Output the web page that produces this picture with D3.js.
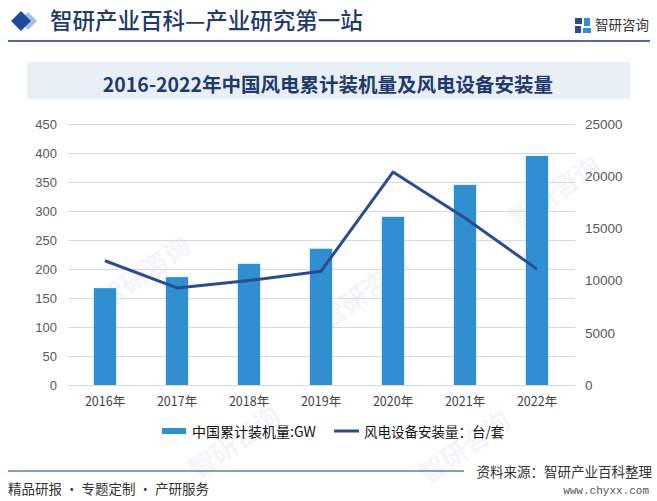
<!DOCTYPE html>
<html><head><meta charset="utf-8">
<script src="https://cdn.jsdelivr.net/npm/d3@7"></script>
<style>
html,body{margin:0;padding:0;background:#fff;}
svg{display:block;}
</style></head>
<body>
<svg id="chart" width="657" height="501"></svg>
<script>
const categories = ["2016年","2017年","2018年","2019年","2020年","2021年","2022年"];
const capacityGW = [167, 186, 209, 235, 290, 345, 395];
const installSets = [11900, 9300, 10000, 10900, 20400, 16000, 11100];
const leftTicks = [0,50,100,150,200,250,300,350,400,450];
const rightTicks = [0,5000,10000,15000,20000,25000];
const seriesNames = ["中国累计装机量:GW", "风电设备安装量：台/套"];

const svg = d3.select("#chart");
const CJK = "'Noto Sans CJK SC','Noto Sans',sans-serif";
const navy = "#1f3a6b";
const barColor = "#2f8fd0";
const lineColor = "#2c4c8e";

// faint watermarks
const wm = [[150,280],[370,300],[560,200],[240,450],[470,455]];
wm.forEach(([x,y])=>{
  svg.append("text").attr("x",x).attr("y",y)
    .attr("transform",`rotate(-35,${x},${y})`)
    .attr("text-anchor","middle")
    .attr("font-family",CJK).attr("font-size",26).attr("font-weight",700)
    .attr("fill","#d3deeb").attr("opacity",0.25).text("智研咨询");
});

// header
svg.append("path").attr("d","M28,12 L37,21 L28,30 L19,21 Z").attr("fill","#a9bfe0");
svg.append("path").attr("d","M21,11 L31,21 L21,31 L11,21 Z").attr("fill","#1f4a98");
svg.append("text").attr("x",50).attr("y",29).attr("font-family",CJK).attr("font-size",22.5)
  .attr("font-weight",500).attr("fill",navy).text("智研产业百科—产业研究第一站");
svg.append("line").attr("x1",8).attr("x2",650).attr("y1",41).attr("y2",41)
  .attr("stroke",navy).attr("stroke-width",1.3);
// logo
const lg = svg.append("g").attr("transform","translate(575,18)");
lg.append("rect").attr("x",0).attr("y",0).attr("width",7).attr("height",6).attr("fill","#2c4c8e");
lg.append("rect").attr("x",0).attr("y",8).attr("width",6).attr("height",7).attr("fill","#2c4c8e");
lg.append("rect").attr("x",9).attr("y",0).attr("width",6).attr("height",8).attr("fill","#2f8fd0");
lg.append("rect").attr("x",8).attr("y",10).attr("width",8).attr("height",5).attr("fill","#2f8fd0");
svg.append("text").attr("x",595).attr("y",30).attr("font-family",CJK).attr("font-size",13.5)
  .attr("fill","#333").text("智研咨询");

// title box
svg.append("rect").attr("x",27).attr("y",62).attr("width",603).attr("height",37).attr("fill","#e9eff7");
svg.append("text").attr("x",328).attr("y",92).attr("text-anchor","middle")
  .attr("font-family",CJK).attr("font-size",19.5).attr("font-weight",700)
  .attr("fill",navy).text("2016-2022年中国风电累计装机量及风电设备安装量");

// scales
const x = d3.scaleBand().domain(categories).range([69,573]).paddingInner(0.69).paddingOuter(0.345);
const yL = d3.scaleLinear().domain([0,450]).range([385,124]);
const yR = d3.scaleLinear().domain([0,25000]).range([385,124]);

// grid
svg.append("g").selectAll("line").data(leftTicks).join("line")
  .attr("x1",68).attr("x2",575).attr("y1",d=>yL(d)+0.5).attr("y2",d=>yL(d)+0.5)
  .attr("stroke","#d9d9d9").attr("stroke-width",1);

// left axis
const axL = svg.append("g").attr("transform","translate(57,0)")
  .call(d3.axisLeft(yL).tickValues(leftTicks).tickSize(0).tickPadding(0));
axL.select(".domain").remove();
axL.selectAll("text").attr("font-family","Arial,'Liberation Sans',sans-serif").attr("font-size",13).attr("fill","#595959");

// right axis
const axR = svg.append("g").attr("transform","translate(585,0)")
  .call(d3.axisRight(yR).tickValues(rightTicks).tickFormat(d3.format("d")).tickSize(0).tickPadding(0));
axR.select(".domain").remove();
axR.selectAll("text").attr("font-family","Arial,'Liberation Sans',sans-serif").attr("font-size",13.5).attr("fill","#595959");

// bottom axis
const axB = svg.append("g").attr("transform","translate(0,385)")
  .call(d3.axisBottom(x).tickSize(0).tickPadding(12));
axB.select(".domain").remove();
axB.selectAll("text").attr("font-family",CJK).attr("font-size",12.5).attr("fill","#404040");

// bars
svg.append("g").selectAll("rect").data(categories).join("rect")
  .attr("x",d=>x(d)).attr("width",x.bandwidth())
  .attr("y",(d,i)=>yL(capacityGW[i])).attr("height",(d,i)=>yL(0)-yL(capacityGW[i]))
  .attr("fill",barColor);

// line
const line = d3.line().x((d,i)=>x(categories[i])+x.bandwidth()/2).y(d=>yR(d));
svg.append("path").datum(installSets).attr("d",line).attr("fill","none")
  .attr("stroke",lineColor).attr("stroke-width",3).attr("stroke-linejoin","round");

// legend
svg.append("rect").attr("x",162).attr("y",428).attr("width",24).attr("height",6).attr("fill",barColor);
svg.append("text").attr("x",192).attr("y",436.5).attr("font-family",CJK).attr("font-size",14)
  .attr("fill","#111").text(seriesNames[0]);
svg.append("line").attr("x1",334).attr("x2",359).attr("y1",431).attr("y2",431)
  .attr("stroke",lineColor).attr("stroke-width",3);
svg.append("text").attr("x",364).attr("y",436.5).attr("font-family",CJK).attr("font-size",13.5)
  .attr("fill","#111").text(seriesNames[1]);

// footer
svg.append("line").attr("x1",8).attr("x2",464).attr("y1",471).attr("y2",471)
  .attr("stroke",navy).attr("stroke-width",1.2);
svg.append("text").attr("x",652).attr("y",477).attr("text-anchor","end").attr("font-family",CJK)
  .attr("font-size",13.5).attr("fill","#333").text("资料来源：智研产业百科整理");
svg.append("text").attr("x",649).attr("y",494).attr("text-anchor","end")
  .attr("font-family","'Liberation Mono',monospace").attr("font-size",11).attr("fill","#555").text("www.chyxx.com");
svg.append("text").attr("x",8).attr("y",494).attr("font-family",CJK)
  .attr("font-size",13.5).attr("fill","#333").text("精品研报 · 专题定制 · 产研服务");
</script>
</body></html>
